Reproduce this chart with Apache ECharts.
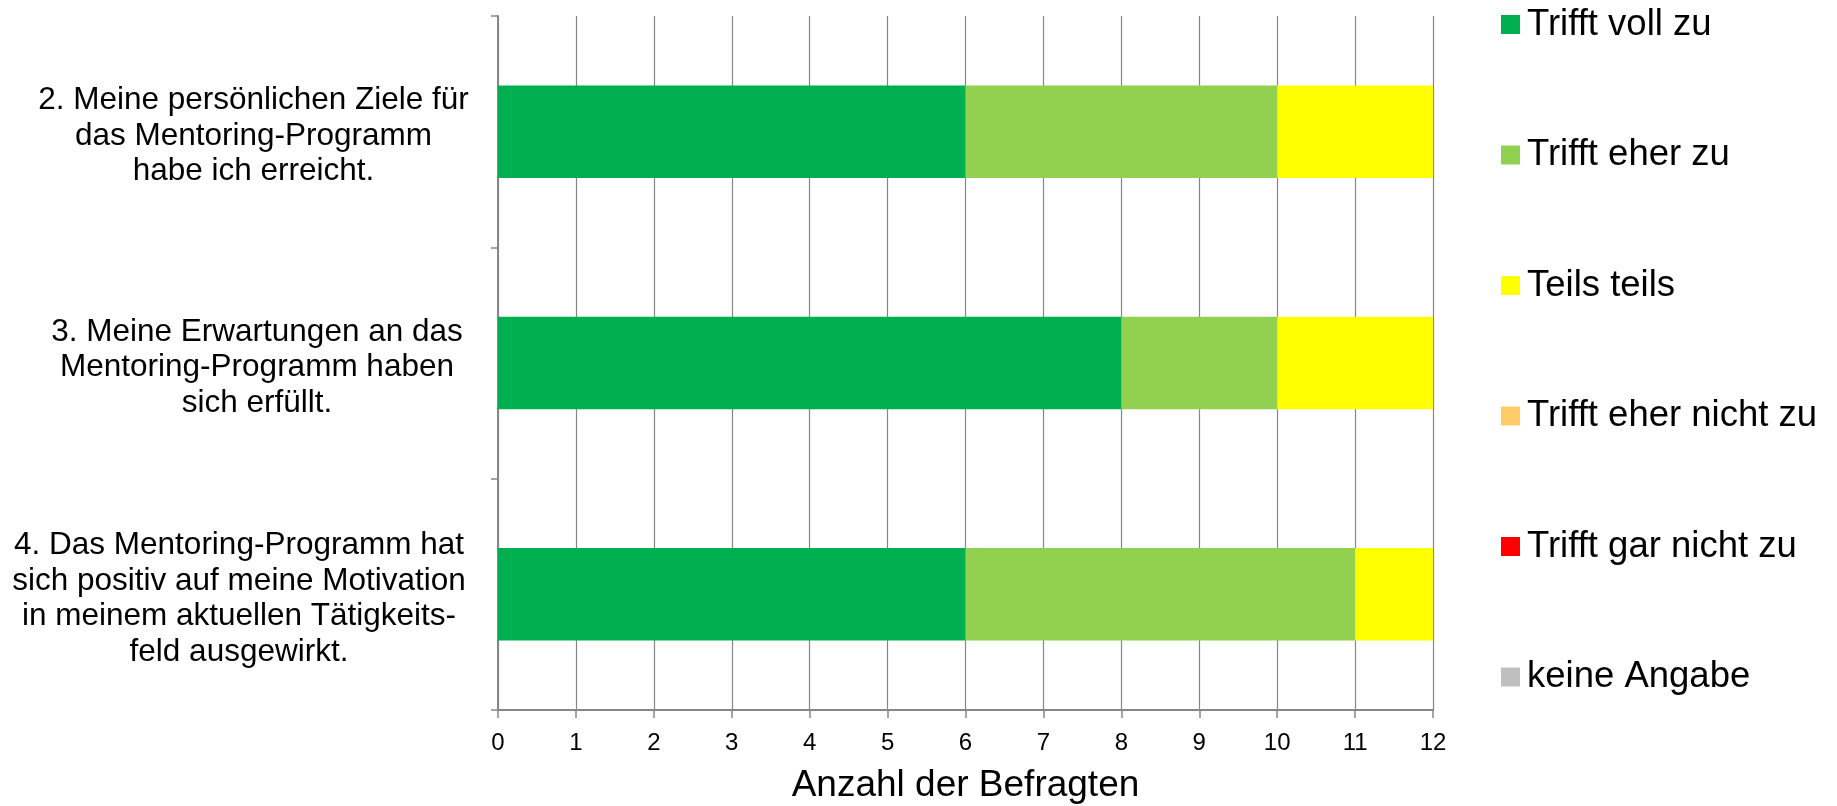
<!DOCTYPE html>
<html>
<head>
<meta charset="utf-8">
<script src="https://cdn.jsdelivr.net/npm/echarts@6/dist/echarts.min.js"></script>
<style>
  html, body { margin: 0; padding: 0; background: #fff; }
  #main { width: 1837px; height: 806px; }
</style>
</head>
<body>
<div id="main"></div>
<script>
// Fragen (von oben nach unten)
var categories = [
  '2. Meine persönlichen Ziele für\ndas Mentoring-Programm\nhabe ich erreicht.',
  '3. Meine Erwartungen an das\nMentoring-Programm haben\nsich erfüllt.',
  '4. Das Mentoring-Programm hat\nsich positiv auf meine Motivation\nin meinem aktuellen Tätigkeits-\nfeld ausgewirkt.'
];

// Antwortkategorien + Farben
var answerNames = ['Trifft voll zu', 'Trifft eher zu', 'Teils teils', 'Trifft eher nicht zu', 'Trifft gar nicht zu', 'keine Angabe'];
var answerColors = ['#00B050', '#92D050', '#FFFF00', '#FFCC66', '#FF0000', '#BFBFBF'];

// Anzahl der Befragten je Antwort
var trifftVoll = [6, 8, 6];
var trifftEher = [4, 2, 5];
var teilsTeils = [2, 2, 1];
var eherNicht = [0, 0, 0];
var garNicht = [0, 0, 0];
var keineAngabe = [0, 0, 0];

var seriesValues = [trifftVoll, trifftEher, teilsTeils, eherNicht, garNicht, keineAngabe];

var FONT = "'Liberation Sans', Arial, sans-serif";

var chart = echarts.init(document.getElementById('main'), null, { renderer: 'canvas' });

// Breite der Textblöcke links (damit Zeilen zentriert im Block stehen)
var labelWidths = [429, 422, 458];

var option = {
  backgroundColor: '#fff',
  animation: false,
  legend: {
    orient: 'vertical',
    left: 1496,
    top: 1,
    icon: 'rect',
    itemWidth: 19,
    itemHeight: 19,
    itemGap: 93.5,
    selectedMode: false,
    data: answerNames,
    textStyle: {
      fontFamily: FONT,
      fontSize: 36.5,
      lineHeight: 36,
      color: '#000',
      padding: [0, 0, 0, 2]
    }
  },
  grid: {
    left: 498,
    right: 404,
    top: 16,
    bottom: 96,
    containLabel: false,
    outerBoundsMode: 'none'
  },
  xAxis: {
    type: 'value',
    min: 0,
    max: 12,
    interval: 1,
    name: 'Anzahl der Befragten',
    nameLocation: 'middle',
    nameGap: 57,
    nameTextStyle: {
      fontFamily: FONT,
      fontSize: 37,
      color: '#000'
    },
    axisLine: { show: true, lineStyle: { color: '#868686', width: 2 } },
    axisTick: { show: true, length: 8, lineStyle: { color: '#868686', width: 1.5 } },
    axisLabel: {
      fontFamily: FONT,
      fontSize: 24,
      color: '#000',
      margin: 21
    },
    splitLine: { show: true, lineStyle: { color: '#868686', width: 1.2 } }
  },
  yAxis: {
    type: 'category',
    inverse: true,
    data: categories,
    axisLine: { show: true, lineStyle: { color: '#868686', width: 2 } },
    axisTick: { show: true, length: 7, lineStyle: { color: '#868686', width: 1.5 } },
    axisLabel: {
      margin: 30,
      align: 'right',
      padding: [9, 0, 0, 0],
      formatter: function (value, index) {
        var key = 'l' + index;
        return value.split('\n').map(function (line) {
          return '{' + key + '|' + line + '}';
        }).join('\n');
      },
      rich: {
        l0: { width: labelWidths[0], align: 'center', fontFamily: FONT, fontSize: 31.5, lineHeight: 35.5, color: '#000' },
        l1: { width: labelWidths[1], align: 'center', fontFamily: FONT, fontSize: 31.5, lineHeight: 35.5, color: '#000' },
        l2: { width: labelWidths[2], align: 'center', fontFamily: FONT, fontSize: 31.5, lineHeight: 35.5, color: '#000' }
      }
    },
    splitLine: { show: false }
  },
  series: answerNames.map(function (name, i) {
    return {
      name: name,
      type: 'bar',
      stack: 'total',
      barWidth: '40%',
      itemStyle: { color: answerColors[i] },
      data: seriesValues[i]
    };
  })
};

chart.setOption(option);
</script>
</body>
</html>
